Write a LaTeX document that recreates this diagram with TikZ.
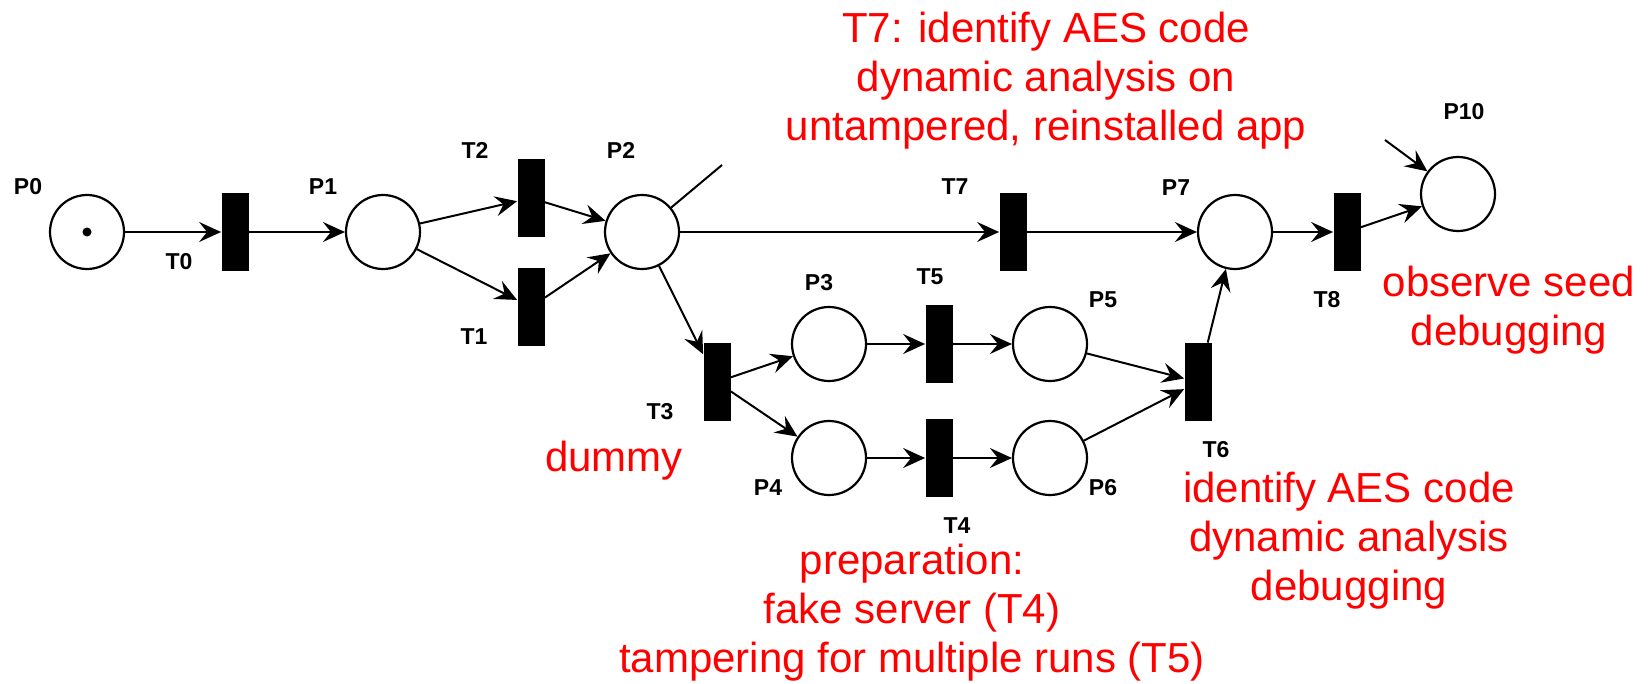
\documentclass[tikz,border=0pt]{standalone}
\usepackage{fontspec}
\setmainfont{Liberation Sans}
\usetikzlibrary{arrows.meta}
\tikzset{place node/.style={circle, draw=black, line width=1.1pt, minimum size=37pt, inner sep=0pt}}
\tikzset{token node/.style={circle, fill=black, minimum size=4.5pt, inner sep=0pt}}
\tikzset{trans node/.style={rectangle, fill=black, minimum width=13.5pt, minimum height=39pt, inner sep=0pt}}
\tikzset{name label/.style={font=\bfseries\fontsize{11.5}{13}\selectfont, inner sep=0pt}}
\tikzset{note text/.style={font=\fontsize{21}{24.5}\selectfont, text=red, align=center, inner sep=0pt}}
\tikzset{regular edge/.style={draw=black, line width=1pt, -{Stealth[length=11pt, width=10pt, inset=4pt]}}}
\tikzset{loose edge/.style={draw=black, line width=1pt}}

\begin{document}
\begin{tikzpicture}
  [x=0.5pt, y=-0.5pt]
  \useasboundingbox (0,0) rectangle (1652,684);

  % places
  \node [place node] (p0)  at (  87,232) {};
  \node [token node] (tok) at (  87,232) {};
  \node [place node] (p1)  at ( 383,232) {};
  \node [place node] (p2)  at ( 642,232) {};
  \node [place node] (p3)  at ( 829,344) {};
  \node [place node] (p4)  at ( 829,458) {};
  \node [place node] (p5)  at (1050,344) {};
  \node [place node] (p6)  at (1050,458) {};
  \node [place node] (p7)  at (1235,232) {};
  \node [place node] (p10) at (1458,194) {};

  % transitions
  \node [trans node] (t0) at ( 235,232) {};
  \node [trans node] (t1) at ( 531,307) {};
  \node [trans node] (t2) at ( 531,198) {};
  \node [trans node] (t3) at ( 717,382) {};
  \node [trans node] (t4) at ( 939,458) {};
  \node [trans node] (t5) at ( 939,344) {};
  \node [trans node] (t6) at (1198,382) {};
  \node [trans node] (t7) at (1013,232) {};
  \node [trans node] (t8) at (1347,232) {};

  \coordinate (p2out) at ( 722,165);
  \coordinate (p10in) at (1385,140);

  % names
  \node [name label] (lp0)  at (  28,187) {P0};
  \node [name label] (lp1)  at ( 323,187) {P1};
  \node [name label] (lp2)  at ( 621,150) {P2};
  \node [name label] (lp3)  at ( 819,283) {P3};
  \node [name label] (lp4)  at ( 768,488) {P4};
  \node [name label] (lp5)  at (1103,300) {P5};
  \node [name label] (lp6)  at (1103,488) {P6};
  \node [name label] (lp7)  at (1176,188) {P7};
  \node [name label] (lp10) at (1464,112) {P10};
  \node [name label] (lt0)  at ( 179,262) {T0};
  \node [name label] (lt1)  at ( 474,337) {T1};
  \node [name label] (lt2)  at ( 475,150) {T2};
  \node [name label] (lt3)  at ( 660,412) {T3};
  \node [name label] (lt4)  at ( 957,526) {T4};
  \node [name label] (lt5)  at ( 930,277) {T5};
  \node [name label] (lt6)  at (1216,450) {T6};
  \node [name label] (lt7)  at ( 955,187) {T7};
  \node [name label] (lt8)  at (1327,300) {T8};

  % notes
  \node [note text] (n7)    at (1046, 81) {T7: identify AES code\\dynamic analysis on\\untampered, reinstalled app};
  \node [note text] (n8)    at (1509,310) {observe seed\\debugging};
  \node [note text] (n3)    at ( 614,461) {dummy};
  \node [note text] (n6)    at (1349,541) {identify AES code\\dynamic analysis\\debugging};
  \node [note text] (n45)   at ( 912,613) {preparation:\\fake server (T4)\\tampering for multiple runs (T5)};

  % arcs
  \draw [regular edge] (p0) to (t0);
  \draw [regular edge] (t0) to (p1);
  \draw [regular edge] (p1) to (t2);
  \draw [regular edge] (p1) to (t1);
  \draw [regular edge] (t2) to (p2);
  \draw [regular edge] (t1) to (p2);
  \draw [loose edge]   (p2) to (p2out);
  \draw [regular edge] (p2) to (t7);
  \draw [regular edge] (p2) to (t3);
  \draw [regular edge] (t3) to (p3);
  \draw [regular edge] (t3) to (p4);
  \draw [regular edge] (p3) to (t5);
  \draw [regular edge] (t5) to (p5);
  \draw [regular edge] (p4) to (t4);
  \draw [regular edge] (t4) to (p6);
  \draw [regular edge] (p5) to (t6);
  \draw [regular edge] (p6) to (t6);
  \draw [regular edge] (t6) to (p7);
  \draw [regular edge] (t7) to (p7);
  \draw [regular edge] (p7) to (t8);
  \draw [regular edge] (t8) to (p10);
  \draw [regular edge] (p10in) to (p10);
\end{tikzpicture}
\end{document}
